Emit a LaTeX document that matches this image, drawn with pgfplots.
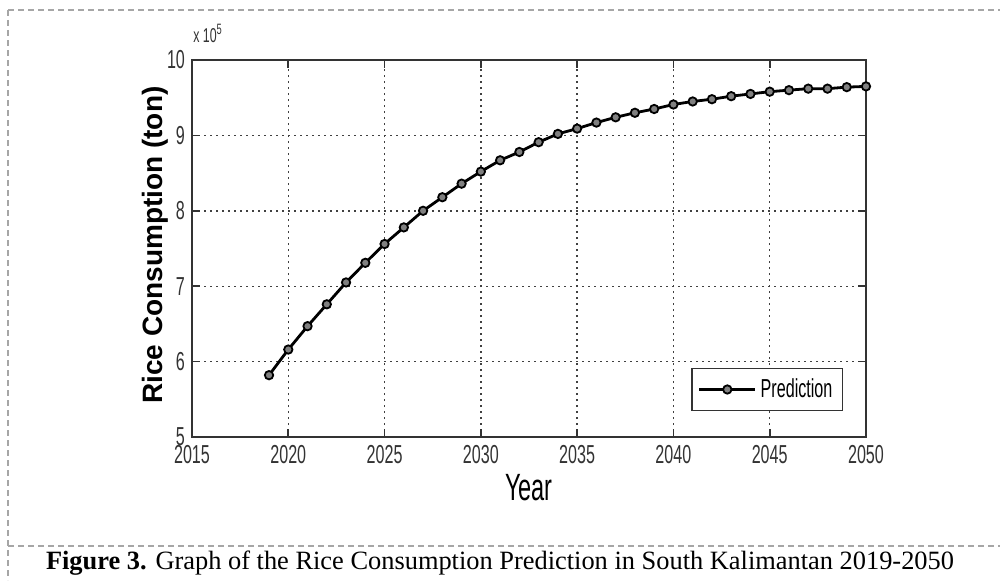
\documentclass[border=0pt]{standalone}
\usepackage{fontspec}
\setmainfont{Liberation Serif}
\newfontfamily\arial{Liberation Sans}
\newfontfamily\arialn[FakeStretch=0.62]{Liberation Sans}
\usepackage{pgfplots}
\pgfplotsset{compat=1.18}
\begin{document}
\begin{tikzpicture}[x=1pt,y=1pt]
\useasboundingbox (0,0) rectangle (500,290);
% figure frame
\draw[gray!70, densely dashed, line width=0.6pt] (4,285) -- (500,285);
\draw[gray!70, densely dashed, line width=0.6pt] (4,285) -- (4,0);
\draw[gray!70, densely dashed, line width=0.6pt] (4,17) -- (500,17);
\node[font=\fontsize{13.2}{15}\selectfont] at (250,8.5) {\textbf{Figure 3.} Graph of the Rice Consumption Prediction in South Kalimantan 2019-2050};
\begin{axis}[
  at={(96pt,71.5pt)}, anchor=south west,
  scale only axis, width=337pt, height=188.5pt,
  xmin=2015, xmax=2050, ymin=5, ymax=10,
  xtick={2015,2020,...,2050}, ytick={5,6,...,10},
  xticklabels={2015,2020,2025,2030,2035,2040,2045,2050},
  yticklabels={5,6,7,8,9,10},
  tick align=inside, major tick length=4pt,
  axis line style={line width=0.8pt, black!80},
  tick style={line width=0.8pt, black!80},
  grid=major, major grid style={black!75, dash pattern=on 0.8pt off 2.2pt, line width=0.7pt},
  tick label style={font=\arialn\fontsize{13}{13}\selectfont, black!80},
  xticklabel style={yshift=-0.5pt},
  /pgf/number format/assume math mode=true,
  xlabel={Year}, ylabel={Rice Consumption (ton)},
  xlabel style={font=\arialn\fontsize{19}{19}\selectfont, at={(rel axis cs:0.5,-0.135)}, anchor=center},
  ylabel style={font=\arial\bfseries\fontsize{14}{14}\selectfont, at={(rel axis cs:-0.0549,0.509)}, anchor=center},
  legend style={at={(rel axis cs:1,0)}, anchor=south east, xshift=-11.5pt, yshift=13pt,
    draw=black!80, line width=0.6pt, font=\arialn\fontsize{13}{13}\selectfont,
    inner xsep=3pt, inner ysep=3pt},
  legend cell align=left,
  legend image code/.code={\draw[mark repeat=2,mark phase=2] plot coordinates {(0pt,0pt) (14pt,0pt) (28pt,0pt)};},
  clip=false,
]
\addplot[black, line width=1.4pt, mark=*, mark size=2.1pt,
  mark options={fill=black!50, draw=black, line width=0.9pt}] coordinates {
(2019,5.82) (2020,6.16) (2021,6.47) (2022,6.76) (2023,7.05) (2024,7.31)
(2025,7.56) (2026,7.78) (2027,8.00) (2028,8.18) (2029,8.36) (2030,8.52)
(2031,8.67) (2032,8.78) (2033,8.91) (2034,9.02) (2035,9.09) (2036,9.17)
(2037,9.24) (2038,9.30) (2039,9.35) (2040,9.41) (2041,9.45) (2042,9.48)
(2043,9.52) (2044,9.55) (2045,9.58) (2046,9.60) (2047,9.62) (2048,9.62)
(2049,9.64) (2050,9.65)
};
\addlegendentry{Prediction}
\node[anchor=base west, font=\arialn\fontsize{10}{10}\selectfont, black!80, inner sep=0pt] at (rel axis cs:0,1) [yshift=9pt, xshift=0.5pt] {x\,10\raisebox{0.7ex}{\fontsize{7.5}{7.5}\selectfont 5}};
\end{axis}
\end{tikzpicture}
\end{document}
